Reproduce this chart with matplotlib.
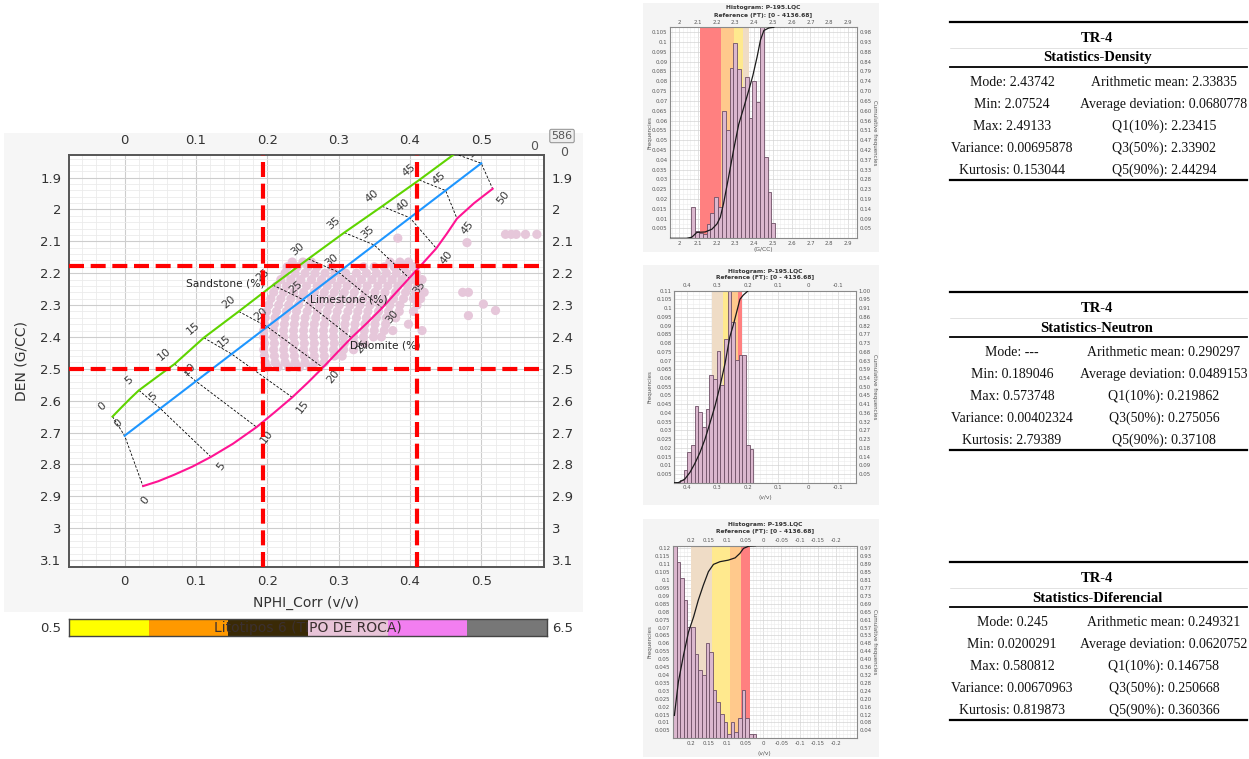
import numpy as np
import matplotlib
matplotlib.use("Agg")
import matplotlib.pyplot as plt
from matplotlib.patches import Rectangle
from matplotlib.lines import Line2D
from matplotlib.ticker import MultipleLocator, FixedLocator, FuncFormatter

plt.rcParams['font.family'] = ['DejaVu Sans']
W, H = 1249, 759

# ---------------- crossplot data ----------------
porosity_pct = [0, 5, 10, 15, 20, 25, 30, 35, 40, 45, 50]
sandstone_nphi = [-0.017, 0.020, 0.070, 0.111, 0.160, 0.208, 0.2575, 0.308, 0.361, 0.413, 0.463]
sandstone_den = [2.65, 2.5675, 2.485, 2.4025, 2.32, 2.2375, 2.155, 2.0725, 1.99, 1.9075, 1.825]
limestone_nphi = [0.0, 0.05, 0.10, 0.15, 0.20, 0.25, 0.30, 0.35, 0.40, 0.45, 0.50]
limestone_den = [2.71, 2.6245, 2.539, 2.4535, 2.368, 2.2825, 2.197, 2.1115, 2.026, 1.9405, 1.855]
dolomite_nphi = [0.026, 0.121, 0.185, 0.235, 0.278, 0.318, 0.361, 0.399, 0.437, 0.466, 0.516]
dolomite_den = [2.87, 2.7765, 2.683, 2.5895, 2.496, 2.4025, 2.309, 2.2155, 2.122, 2.0285, 1.935]
# finer readings along the (curved) dolomite line and the start of the sandstone line
dolomite_curve_nphi = [0.026, 0.047, 0.069, 0.095, 0.121, 0.152, 0.185, 0.21, 0.235, 0.257, 0.278,
                       0.298, 0.318, 0.34, 0.361, 0.38, 0.399, 0.418, 0.437, 0.452, 0.466, 0.49, 0.516]
dolomite_curve_den = [2.868, 2.853, 2.833, 2.807, 2.7765, 2.735, 2.683, 2.637, 2.5895, 2.543, 2.496,
                      2.449, 2.4025, 2.356, 2.309, 2.262, 2.2155, 2.169, 2.122, 2.075, 2.0285, 1.98, 1.935]
sandstone_curve_nphi = [-0.017, -0.004, 0.008, 0.020, 0.045, 0.070, 0.111, 0.160, 0.208, 0.2575,
                        0.308, 0.361, 0.413, 0.463]
sandstone_curve_den = [2.65, 2.62, 2.593, 2.5675, 2.526, 2.485, 2.4025, 2.32, 2.2375, 2.155,
                       2.0725, 1.99, 1.9075, 1.825]

cutoff_nphi = [0.1937, 0.4106]
cutoff_den = [2.178, 2.50]

cloud_den = [2.165, 2.18, 2.20, 2.22, 2.24, 2.26, 2.28, 2.30, 2.32, 2.34, 2.36,
             2.38, 2.40, 2.42, 2.44, 2.46, 2.48, 2.495]
cloud_nphi = [
    [0.235, 0.25, 0.262, 0.372, 0.386, 0.398],
    [0.228, 0.242, 0.257, 0.27, 0.29, 0.335, 0.35, 0.364, 0.378, 0.392, 0.405],
    [0.225, 0.239, 0.253, 0.267, 0.281, 0.295, 0.31, 0.325, 0.339, 0.353, 0.367, 0.381, 0.395, 0.409],
    [0.219, 0.233, 0.247, 0.262, 0.276, 0.29, 0.304, 0.318, 0.332, 0.347, 0.361, 0.375, 0.389, 0.403, 0.417],
    [0.213, 0.227, 0.241, 0.255, 0.27, 0.284, 0.298, 0.312, 0.326, 0.34, 0.355, 0.369, 0.383, 0.397, 0.411],
    [0.209, 0.223, 0.237, 0.251, 0.266, 0.28, 0.294, 0.308, 0.322, 0.337, 0.351, 0.365, 0.38, 0.394, 0.408, 0.42],
    [0.205, 0.219, 0.233, 0.247, 0.262, 0.276, 0.29, 0.305, 0.32, 0.334, 0.348, 0.362, 0.377, 0.391, 0.405],
    [0.202, 0.216, 0.23, 0.244, 0.259, 0.273, 0.287, 0.301, 0.316, 0.33, 0.344, 0.358, 0.372, 0.386, 0.41],
    [0.199, 0.213, 0.227, 0.241, 0.256, 0.27, 0.284, 0.298, 0.313, 0.327, 0.341, 0.356, 0.37, 0.385, 0.405],
    [0.197, 0.211, 0.225, 0.239, 0.253, 0.268, 0.282, 0.296, 0.31, 0.325, 0.339, 0.353, 0.367, 0.38],
    [0.196, 0.21, 0.224, 0.238, 0.252, 0.266, 0.28, 0.294, 0.309, 0.323, 0.337, 0.351, 0.366, 0.398],
    [0.195, 0.209, 0.223, 0.237, 0.251, 0.265, 0.279, 0.293, 0.308, 0.322, 0.336, 0.35, 0.364, 0.376, 0.417],
    [0.195, 0.209, 0.223, 0.237, 0.251, 0.265, 0.279, 0.293, 0.307, 0.321, 0.335, 0.349, 0.36],
    [0.196, 0.21, 0.224, 0.238, 0.252, 0.266, 0.28, 0.294, 0.308, 0.322, 0.336],
    [0.195, 0.209, 0.223, 0.237, 0.251, 0.265, 0.279, 0.293, 0.307, 0.321],
    [0.196, 0.21, 0.224, 0.238, 0.252, 0.266, 0.28, 0.294, 0.305],
    [0.197, 0.211, 0.225, 0.239, 0.253, 0.267, 0.28],
    [0.2, 0.215, 0.23, 0.245, 0.26],
]
outlier_nphi = [0.383, 0.48, 0.534, 0.542, 0.549, 0.562, 0.578, 0.474, 0.482, 0.503, 0.52, 0.482, 0.415]
outlier_den = [2.09, 2.104, 2.078, 2.078, 2.078, 2.078, 2.078, 2.26, 2.26, 2.297, 2.317, 2.333, 2.28]

litho_codes = [1, 2, 3, 4, 5, 6]
litho_colors = ['#ffff00', '#ff9900', '#3a2a06', '#e8c4d8', '#f27ef0', '#777777']

# ---------------- histogram data ----------------
band_colors = ['#ff8080', '#ffc98c', '#ffe98e', '#efdcc6']

dens_bin_start, dens_bin_width = 2.066, 0.0203
dens_freq = [0.0158, 0.0037, 0.0025, 0.0022, 0.0073, 0.0127, 0.021, 0.016, 0.065, 0.055, 0.087,
             0.0995, 0.086, 0.077, 0.082, 0.0615, 0.080, 0.0695, 0.118, 0.0415, 0.0238, 0.0076]
dens_bands = [2.113, 2.225, 2.291, 2.339, 2.375]
dens_cum_x = [1.952, 2.04, 2.068, 2.095, 2.139, 2.175, 2.202, 2.22, 2.2375, 2.264, 2.291, 2.318,
              2.345, 2.371, 2.393, 2.416, 2.434, 2.452, 2.479, 2.505]
dens_cum_y = [0, 0, 0.005, 0.028, 0.030, 0.043, 0.068, 0.10, 0.166, 0.29, 0.42, 0.54,
              0.62, 0.70, 0.77, 0.86, 0.94, 0.985, 0.997, 1.0]
dens_right_labels = ['0.05', '0.09', '0.14', '0.19', '0.23', '0.28', '0.33', '0.37', '0.42', '0.47', '0.51',
                     '0.56', '0.60', '0.65', '0.70', '0.74', '0.79', '0.84', '0.88', '0.93', '0.98']

neut_bin_start, neut_bin_width = 0.1815, 0.01214
neut_freq = [0.0192, 0.0216, 0.0729, 0.0733, 0.0704, 0.0922, 0.118, 0.0822, 0.0562, 0.0755, 0.0596,
             0.0615, 0.0423, 0.0319, 0.0404, 0.0438, 0.0216, 0.0176, 0.0074, 0.0017, 0.0006]
neut_bands = [0.219, 0.232, 0.26, 0.281, 0.319]
neut_cum_x = [0.443, 0.43, 0.424, 0.408, 0.391, 0.375, 0.358, 0.3415, 0.325, 0.308, 0.292, 0.275,
              0.259, 0.2477, 0.2256, 0.2146, 0.198]
neut_cum_y = [0, 0, 0.005, 0.019, 0.054, 0.10, 0.157, 0.226, 0.31, 0.40, 0.50, 0.62,
              0.76, 0.82, 0.955, 0.977, 1.0]
neut_right_labels = ['0.05', '0.09', '0.14', '0.18', '0.23', '0.27', '0.32', '0.36', '0.41', '0.45', '0.50',
                     '0.54', '0.59', '0.63', '0.68', '0.73', '0.77', '0.82', '0.86', '0.91', '0.95', '1.00']

diff_bin_start, diff_bin_width = 0.02, 0.01
diff_freq = [0.0029, 0.0029, 0.0128, 0.0303, 0.0128, 0.004, 0.0103, 0.0029, 0.0103, 0.0155, 0.0229,
             0.0303, 0.0546, 0.0605, 0.0398, 0.043, 0.0535, 0.0704, 0.0704, 0.0872, 0.101, 0.1115, 0.13]
diff_bands = [0.036, 0.062, 0.091, 0.143, 0.2]
diff_cum_x = [0.246, 0.235, 0.221, 0.207, 0.193, 0.18, 0.166, 0.152, 0.138, 0.12, 0.097, 0.078,
              0.065, 0.055, 0.04, 0.022]
diff_cum_y = [0.119, 0.293, 0.43, 0.552, 0.63, 0.717, 0.795, 0.865, 0.903, 0.917, 0.925, 0.937,
              0.96, 0.986, 0.998, 1.0]
diff_right_labels = ['0.04', '0.08', '0.12', '0.16', '0.20', '0.24', '0.28', '0.32', '0.36', '0.40', '0.44', '0.48',
                     '0.53', '0.57', '0.61', '0.65', '0.69', '0.73', '0.77', '0.81', '0.85', '0.89', '0.93', '0.97']

# ---------------- statistics tables ----------------
stats_density_left = ['Mode: 2.43742', 'Min: 2.07524', 'Max: 2.49133', 'Variance: 0.00695878', 'Kurtosis: 0.153044']
stats_density_right = ['Arithmetic mean: 2.33835', 'Average deviation: 0.0680778', 'Q1(10%): 2.23415',
                       'Q3(50%): 2.33902', 'Q5(90%): 2.44294']
stats_neutron_left = ['Mode: ---', 'Min: 0.189046', 'Max: 0.573748', 'Variance: 0.00402324', 'Kurtosis: 2.79389']
stats_neutron_right = ['Arithmetic mean: 0.290297', 'Average deviation: 0.0489153', 'Q1(10%): 0.219862',
                       'Q3(50%): 0.275056', 'Q5(90%): 0.37108']
stats_diff_left = ['Mode: 0.245', 'Min: 0.0200291', 'Max: 0.580812', 'Variance: 0.00670963', 'Kurtosis: 0.819873']
stats_diff_right = ['Arithmetic mean: 0.249321', 'Average deviation: 0.0620752', 'Q1(10%): 0.146758',
                    'Q3(50%): 0.250668', 'Q5(90%): 0.360366']

# ---------------- helpers ----------------
fig = plt.figure(figsize=(W / 100, H / 100), dpi=100)
fig.patch.set_facecolor('white')


def fx(x):
    return x / W


def fy(y):
    return 1 - y / H


def add_ax(l, t, r, b):
    return fig.add_axes([l / W, 1 - b / H, (r - l) / W, (b - t) / H])


def bg_rect(l, t, r, b, color):
    fig.add_artist(Rectangle((l / W, 1 - b / H), (r - l) / W, (b - t) / H, transform=fig.transFigure,
                             facecolor=color, edgecolor='none', zorder=-10))


def hline(x0, x1, y, lw, color='black'):
    fig.add_artist(Line2D([fx(x0), fx(x1)], [fy(y), fy(y)], transform=fig.transFigure, color=color, lw=lw))


def gfmt(v, pos=None):
    v = round(v, 4)
    if abs(v) < 1e-9:
        return '0'
    return f"{v:g}"


# ---------------- crossplot ----------------
bg_rect(4, 133, 583, 612, '#f6f6f6')
ax = add_ax(69, 155, 544, 567)
ax.set_xlim(-0.078, 0.588)
ax.set_ylim(3.122, 1.829)
ax.xaxis.set_major_locator(MultipleLocator(0.1))
ax.xaxis.set_minor_locator(MultipleLocator(0.02))
ax.yaxis.set_major_locator(MultipleLocator(0.1))
ax.yaxis.set_minor_locator(MultipleLocator(0.02))
ax.xaxis.set_major_formatter(FuncFormatter(gfmt))
ax.yaxis.set_major_formatter(FuncFormatter(gfmt))
ax.tick_params(which='both', length=0, labelsize=9.5, labelcolor='#333333', pad=5.5,
               top=True, right=True, labeltop=True, labelright=True)
ax.grid(which='major', color='#cdcdcd', lw=0.8)
ax.grid(which='minor', color='#ebebeb', lw=0.6)
ax.set_axisbelow(True)
for s in ax.spines.values():
    s.set_color('#555555')
    s.set_linewidth(1.4)

pts_x, pts_y = [], []
for d, row in zip(cloud_den, cloud_nphi):
    pts_x.extend(row)
    pts_y.extend([d] * len(row))
pts_x.extend(outlier_nphi)
pts_y.extend(outlier_den)
ax.scatter(pts_x, pts_y, s=44, c='#e6c7da', edgecolors='none', zorder=2)

for i in range(len(porosity_pct)):
    ax.plot([sandstone_nphi[i], limestone_nphi[i], dolomite_nphi[i]],
            [sandstone_den[i], limestone_den[i], dolomite_den[i]],
            color='black', lw=0.6, ls=(0, (3, 2)), zorder=3)
ax.plot(sandstone_curve_nphi, sandstone_curve_den, color='#5fd400', lw=1.5, zorder=3)
ax.plot(limestone_nphi, limestone_den, color='#1e96ff', lw=1.5, zorder=3)
ax.plot(dolomite_curve_nphi, dolomite_curve_den, color='#ff1493', lw=1.5, zorder=3)

lab_kw = dict(textcoords='offset points', ha='center', va='center', fontsize=8,
              color='#3a3a3a', zorder=4, clip_on=True)
for i, p in enumerate(porosity_pct):
    ax.annotate(str(p), xy=(sandstone_nphi[i], sandstone_den[i]), xytext=(-7.5, 7), rotation=40, **lab_kw)
    ax.annotate(str(p), xy=(limestone_nphi[i], limestone_den[i]), xytext=(-5, 9), rotation=40, **lab_kw)
    off = (1.5, -9.5) if p == 0 else (7.5, -6.5)
    ax.annotate(str(p), xy=(dolomite_nphi[i], dolomite_den[i]), xytext=off, rotation=52, **lab_kw)

ax.text(0.0857, 2.232, 'Sandstone (%)', fontsize=7.7, color='#222222', va='center', ha='left', zorder=4)
ax.text(0.260, 2.284, 'Limestone (%)', fontsize=7.7, color='#222222', va='center', ha='left', zorder=4)
ax.text(0.3157, 2.428, 'Dolomite (%)', fontsize=7.7, color='#222222', va='center', ha='left', zorder=4)

for xv in cutoff_nphi:
    ax.axvline(xv, color='#ff0000', lw=3, ls=(0, (3.6, 1.6)), zorder=5)
for yv in cutoff_den:
    ax.axhline(yv, color='#ff0000', lw=3, ls=(0, (3.6, 1.6)), zorder=5)

fig.text(fx(306), fy(603), 'NPHI_Corr (v/v)', ha='center', va='center', fontsize=10, color='#333333')
fig.text(fx(22), fy(361), 'DEN (G/CC)', ha='center', va='center', fontsize=10, color='#333333', rotation=90)
fig.text(fx(534), fy(147), '0', ha='center', va='center', fontsize=9, color='#555555')
fig.text(fx(564), fy(152), '0', ha='center', va='center', fontsize=9, color='#555555')
fig.text(fx(562), fy(136), '586', ha='center', va='center', fontsize=8, color='#555555',
         bbox=dict(boxstyle='round,pad=0.15', fc='#eeeeee', ec='#999999', lw=0.8))

# colour bar of lithotypes
cax = add_ax(69, 619, 547, 636)
cax.bar(litho_codes, [1] * len(litho_codes), width=1.0, color=litho_colors, edgecolor='none')
cax.set_xlim(0.5, 6.5)
cax.set_ylim(0, 1)
cax.set_xticks([])
cax.set_yticks([])
for s in cax.spines.values():
    s.set_color('#444444')
    s.set_linewidth(1.0)
cax.text(3.5, 0.45, 'Litotipos 6 (TIPO DE ROCA)', ha='center', va='center', fontsize=10, color='#3a3030')
fig.text(fx(61), fy(628), '0.5', ha='right', va='center', fontsize=9.5, color='#333333')
fig.text(fx(552), fy(628), '6.5', ha='left', va='center', fontsize=9.5, color='#333333')


# ---------------- histograms ----------------
def hist_panel(box, bg, xlim, xticks, xminor, ymax, yticks, rlabels, bin_start, bin_width, freqs,
               band_edges, cum_x, cum_y, xlabel, title_y, ref_y, xlabel_y):
    l, t, r, b = box
    bg_rect(*bg, '#f4f4f4')
    a = add_ax(l, t, r, b)
    a.set_xlim(*xlim)
    a.set_ylim(0, ymax)
    for i in range(len(band_edges) - 1):
        a.axvspan(band_edges[i], band_edges[i + 1], color=band_colors[i], lw=0, zorder=1)
    lefts = bin_start + bin_width * np.arange(len(freqs))
    a.bar(lefts, freqs, width=bin_width, align='edge', color='#dbb7ce', edgecolor='#6e5066',
          linewidth=0.6, zorder=2)
    a.xaxis.set_major_locator(FixedLocator(xticks))
    a.xaxis.set_minor_locator(MultipleLocator(xminor))
    a.yaxis.set_major_locator(FixedLocator(yticks))
    a.yaxis.set_minor_locator(MultipleLocator(0.0025))
    a.xaxis.set_major_formatter(FuncFormatter(gfmt))
    a.yaxis.set_major_formatter(FuncFormatter(gfmt))
    a.tick_params(which='both', length=0, labelsize=3.9, labelcolor='#555555', pad=1.8,
                  top=True, labeltop=True)
    a.grid(which='major', color='#d4d4d4', lw=0.5)
    a.grid(which='minor', color='#ececec', lw=0.4)
    a.set_axisbelow(True)
    for s in a.spines.values():
        s.set_color('#8a8a8a')
        s.set_linewidth(0.8)
    a2 = a.twinx()
    a2.set_ylim(0, 1)
    a2.plot(cum_x, cum_y, color='#1a1a1a', lw=0.9, zorder=3)
    a2.set_yticks([v / ymax for v in yticks])
    a2.set_yticklabels(rlabels)
    a2.tick_params(length=0, labelsize=3.9, labelcolor='#555555', pad=1.8)
    for s in a2.spines.values():
        s.set_visible(False)
    cx = (l + r) / 2
    fig.text(fx(cx), fy(title_y), 'Histogram: P-195.LQC', ha='center', va='center', fontsize=4.3,
             fontweight='bold', color='#333333')
    fig.text(fx(cx), fy(ref_y), 'Reference (FT): [0 - 4136.68]', ha='center', va='center', fontsize=4.3,
             fontweight='bold', color='#333333')
    fig.text(fx(cx), fy(xlabel_y), xlabel, ha='center', va='center', fontsize=4.3, color='#555555')
    fig.text(fx(650), fy((t + b) / 2), 'Frequencies', ha='center', va='center', fontsize=4.0,
             color='#555555', rotation=90)
    fig.text(fx(875), fy((t + b) / 2), 'Cumulative frequencies', ha='center', va='center', fontsize=4.0,
             color='#555555', rotation=270)


hist_panel((670, 27.3, 857, 238.3), (643, 3, 879, 252), (1.952, 2.948),
           [2.0, 2.1, 2.2, 2.3, 2.4, 2.5, 2.6, 2.7, 2.8, 2.9], 0.02, 0.1075,
           list(np.round(np.arange(0.005, 0.1051, 0.005), 3)), dens_right_labels,
           dens_bin_start, dens_bin_width, dens_freq, dens_bands, dens_cum_x, dens_cum_y,
           '(G/CC)', 7.3, 15, 250)

hist_panel((674.3, 290.7, 855.7, 482.7), (643, 265, 879, 505), (0.443, -0.158),
           [0.4, 0.3, 0.2, 0.1, 0.0, -0.1], 0.02, 0.11,
           list(np.round(np.arange(0.005, 0.1101, 0.005), 3)), neut_right_labels,
           neut_bin_start, neut_bin_width, neut_freq, neut_bands, neut_cum_x, neut_cum_y,
           '(v/v)', 271.5, 277.5, 498)

hist_panel((672.7, 545.7, 856.7, 738.3), (643, 519, 879, 757), (0.2507, -0.258),
           [0.2, 0.15, 0.1, 0.05, 0.0, -0.05, -0.1, -0.15, -0.2], 0.01, 0.1217,
           list(np.round(np.arange(0.005, 0.1201, 0.005), 3)), diff_right_labels,
           diff_bin_start, diff_bin_width, diff_freq, diff_bands, diff_cum_x, diff_cum_y,
           '(v/v)', 524.5, 531, 753)


# ---------------- tables ----------------
def stat_table(top, name, left_items, right_items):
    x0, x1 = 950, 1247
    serif = ['Liberation Serif', 'DejaVu Serif']
    hline(x0, x1, top, 1.6)
    fig.text(fx(1097), fy(top + 16), 'TR-4', ha='center', va='center', fontsize=10.5,
             fontweight='bold', family=serif)
    hline(x0, x1, top + 26, 0.4, '#cccccc')
    fig.text(fx(1097), fy(top + 36), 'Statistics-' + name, ha='center', va='center', fontsize=10.5,
             fontweight='bold', family=serif)
    hline(x0, x1, top + 45, 1.3)
    for i in range(len(left_items)):
        yy = top + 61 + i * 21.8
        fig.text(fx(1012), fy(yy), left_items[i], ha='center', va='center', fontsize=10, family=serif,
                 color='#111111')
        fig.text(fx(1164), fy(yy), right_items[i], ha='center', va='center', fontsize=10, family=serif,
                 color='#111111')
    hline(x0, x1, top + 158, 1.6)


stat_table(22, 'Density', stats_density_left, stats_density_right)
stat_table(292, 'Neutron', stats_neutron_left, stats_neutron_right)
stat_table(562, 'Diferencial', stats_diff_left, stats_diff_right)

fig.savefig('out.png', dpi=100, facecolor='white')
